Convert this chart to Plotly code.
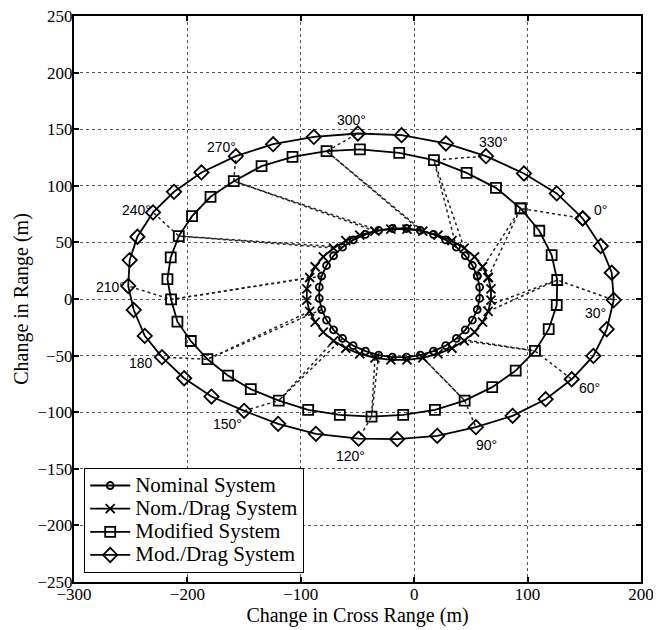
import plotly.graph_objects as go

# ---------------- data ----------------
angles_deg = [0, 10, 20, 30, 40, 50, 60, 70, 80, 90, 100, 110, 120, 130, 140, 150, 160, 170,
              180, 190, 200, 210, 220, 230, 240, 250, 260, 270, 280, 290, 300, 310, 320, 330, 340, 350]

nominal_x = [55.6, 57.7, 57.7, 55.6, 51.3, 45.1, 37.2, 27.8, 17.0, 5.4, -6.8, -19.2, -31.4, -43.0,
             -53.8, -63.2, -71.1, -77.3, -81.6, -83.7, -83.7, -81.6, -77.3, -71.1, -63.2, -53.8,
             -43.0, -31.4, -19.2, -6.8, 5.4, 17.0, 27.8, 37.2, 45.1, 51.3]
nominal_y = [20.3, 10.5, 0.5, -9.3, -18.6, -27.2, -34.8, -41.2, -46.1, -49.6, -51.3, -51.3, -49.6,
             -46.1, -41.2, -34.8, -27.2, -18.6, -9.3, 0.5, 10.5, 20.3, 29.6, 38.2, 45.8, 52.2,
             57.1, 60.6, 62.3, 62.3, 60.6, 57.1, 52.2, 45.8, 38.2, 29.6]

nomdrag_x = [65.2, 67.7, 67.7, 65.2, 60.3, 53.2, 44.1, 33.3, 21.0, 7.6, -6.4, -20.6, -34.6, -48.0,
             -60.3, -71.1, -80.2, -87.3, -92.2, -94.7, -94.7, -92.2, -87.3, -80.2, -71.1, -60.3,
             -48.0, -34.6, -20.6, -6.4, 7.6, 21.0, 33.3, 44.1, 53.2, 60.3]
nomdrag_y = [19.0, 9.0, -1.0, -11.0, -20.5, -29.3, -37.0, -43.5, -48.5, -52.0, -53.8, -53.8, -52.0,
             -48.5, -43.5, -37.0, -29.3, -20.5, -11.0, -1.0, 9.0, 19.0, 28.5, 37.3, 45.0, 51.5,
             56.5, 60.0, 61.8, 61.8, 60.0, 56.5, 51.5, 45.0, 37.3, 28.5]

modified_x = [93.9, 110.3, 121.2, 126.1, 125.7, 118.6, 106.5, 89.5, 68.8, 44.5, 18.3, -9.7, -37.6,
              -65.6, -93.5, -119.4, -144.1, -164.1, -182.3, -197.0, -208.8, -214.4, -217.6, -214.7,
              -207.6, -195.9, -179.6, -159.1, -134.6, -107.3, -77.3, -47.9, -13.2, 17.4, 46.2, 72.1]
modified_y = [80.0, 60.3, 38.8, 16.8, -5.3, -26.7, -45.9, -63.3, -77.9, -89.7, -97.9, -102.4, -103.9,
              -102.4, -97.9, -89.7, -79.7, -67.7, -53.2, -37.1, -20.0, -0.4, 17.6, 36.8, 55.6, 73.2,
              90.3, 104.1, 117.4, 125.6, 130.6, 132.1, 129.1, 122.7, 111.4, 98.2]

moddrag_x = [148.6, 164.5, 174.2, 176.0, 169.8, 158.0, 138.9, 115.9, 86.8, 54.4, 20.3, -15.0, -49.0,
             -86.7, -120.0, -150.0, -178.8, -202.9, -222.4, -237.6, -247.3, -252.2, -250.9, -244.1,
             -230.3, -211.8, -187.6, -157.3, -124.4, -88.5, -49.7, -11.1, 28.0, 63.3, 96.8, 125.7]
moddrag_y = [71.2, 46.8, 23.2, -0.9, -26.7, -50.3, -70.9, -88.5, -103.2, -113.2, -120.9, -123.8,
             -123.4, -119.1, -110.3, -98.8, -86.2, -70.0, -51.4, -32.6, -9.7, 11.5, 34.4, 55.0, 76.5,
             94.7, 111.8, 126.2, 136.8, 143.2, 146.2, 144.7, 137.4, 126.2, 110.9, 93.3]

# angle labels (every 30 degrees)
label_text = ["0°", "30°", "60°", "90°", "120°", "150°", "180", "210°", "240°", "270°", "300°", "330°"]
label_index = [0, 3, 6, 9, 12, 15, 18, 21, 24, 27, 30, 33]
label_x = [164.7, 160.0, 154.2, 63.7, -55.8, -164.4, -240.7, -268.1, -244.7, -170.1, -55.0, 70.3]
label_y = [78.5, -12.8, -79.0, -128.8, -138.5, -110.3, -56.5, 10.6, 78.5, 134.1, 157.9, 138.5]

series_names = ["Nominal System", "Nom./Drag System", "Modified System", "Mod./Drag System"]

# ---------------- figure ----------------
fig = go.Figure()

# dotted connector lines at the labelled angles
cx, cy = [], []
for k in label_index:
    cx += [nominal_x[k], modified_x[k], None,
           nomdrag_x[k], modified_x[k], moddrag_x[k], None]
    cy += [nominal_y[k], modified_y[k], None,
           nomdrag_y[k], modified_y[k], moddrag_y[k], None]
fig.add_trace(go.Scatter(x=cx, y=cy, mode="lines", showlegend=False, hoverinfo="skip",
                         line=dict(color="#222", width=1.5, dash="dot")))


def closed(v):
    return list(v) + [v[0]]


styles = [
    dict(symbol="circle-open", size=7),
    dict(symbol="x-thin-open", size=9),
    dict(symbol="square-open", size=10),
    dict(symbol="diamond-open", size=11),
]
series = [(nominal_x, nominal_y), (nomdrag_x, nomdrag_y), (modified_x, modified_y), (moddrag_x, moddrag_y)]

for (sx, sy), name, st in zip(series, series_names, styles):
    fig.add_trace(go.Scatter(
        x=closed(sx), y=closed(sy), mode="lines+markers",
        name='<span style="font-size:21px">' + name + '</span>',
        line=dict(color="black", width=1.8),
        marker=dict(symbol=st["symbol"], size=st["size"], color="black",
                    line=dict(color="black", width=1.8)),
    ))

for t, lx, ly in zip(label_text, label_x, label_y):
    fig.add_annotation(x=lx, y=ly, text=t, showarrow=False, xref="x", yref="y",
                       font=dict(family="Liberation Sans, Arial", size=14, color="black"))

serif = "Liberation Serif, Times New Roman"
axis_common = dict(
    showline=True, linecolor="black", linewidth=2, mirror="ticks",
    ticks="inside", ticklen=5, tickwidth=1.5, tickcolor="black",
    showgrid=True, gridcolor="#555", griddash="dot", gridwidth=1,
    zeroline=False, automargin=False, ticklabeloverflow="allow",
    tickfont=dict(family=serif, size=17, color="black"),
)

# the page body adds an 8px offset; the figure is sized so its plot area sits where the reference's does
fig.update_layout(
    width=653, height=622,
    margin=dict(l=66, r=20, t=8, b=48),
    paper_bgcolor="white", plot_bgcolor="white",
    xaxis=dict(range=[-300, 200], dtick=100, tick0=0, ticklabelstandoff=-4,
               title=dict(text="Change in Cross Range (m)", standoff=3,
                          font=dict(family=serif, size=20, color="black")),
               **axis_common),
    yaxis=dict(range=[-250, 250], dtick=50, tick0=0, ticklabelstandoff=-4,
               title=dict(text="Change in Range (m)", standoff=4,
                          font=dict(family=serif, size=20, color="black")),
               **axis_common),
    legend=dict(x=0.018, y=0.016, xanchor="left", yanchor="bottom",
                bgcolor="white", bordercolor="black", borderwidth=1,
                font=dict(family=serif, size=15.5, color="black"),
                tracegroupgap=0, itemwidth=40),
    showlegend=True,
)

fig.write_html("out.html")
